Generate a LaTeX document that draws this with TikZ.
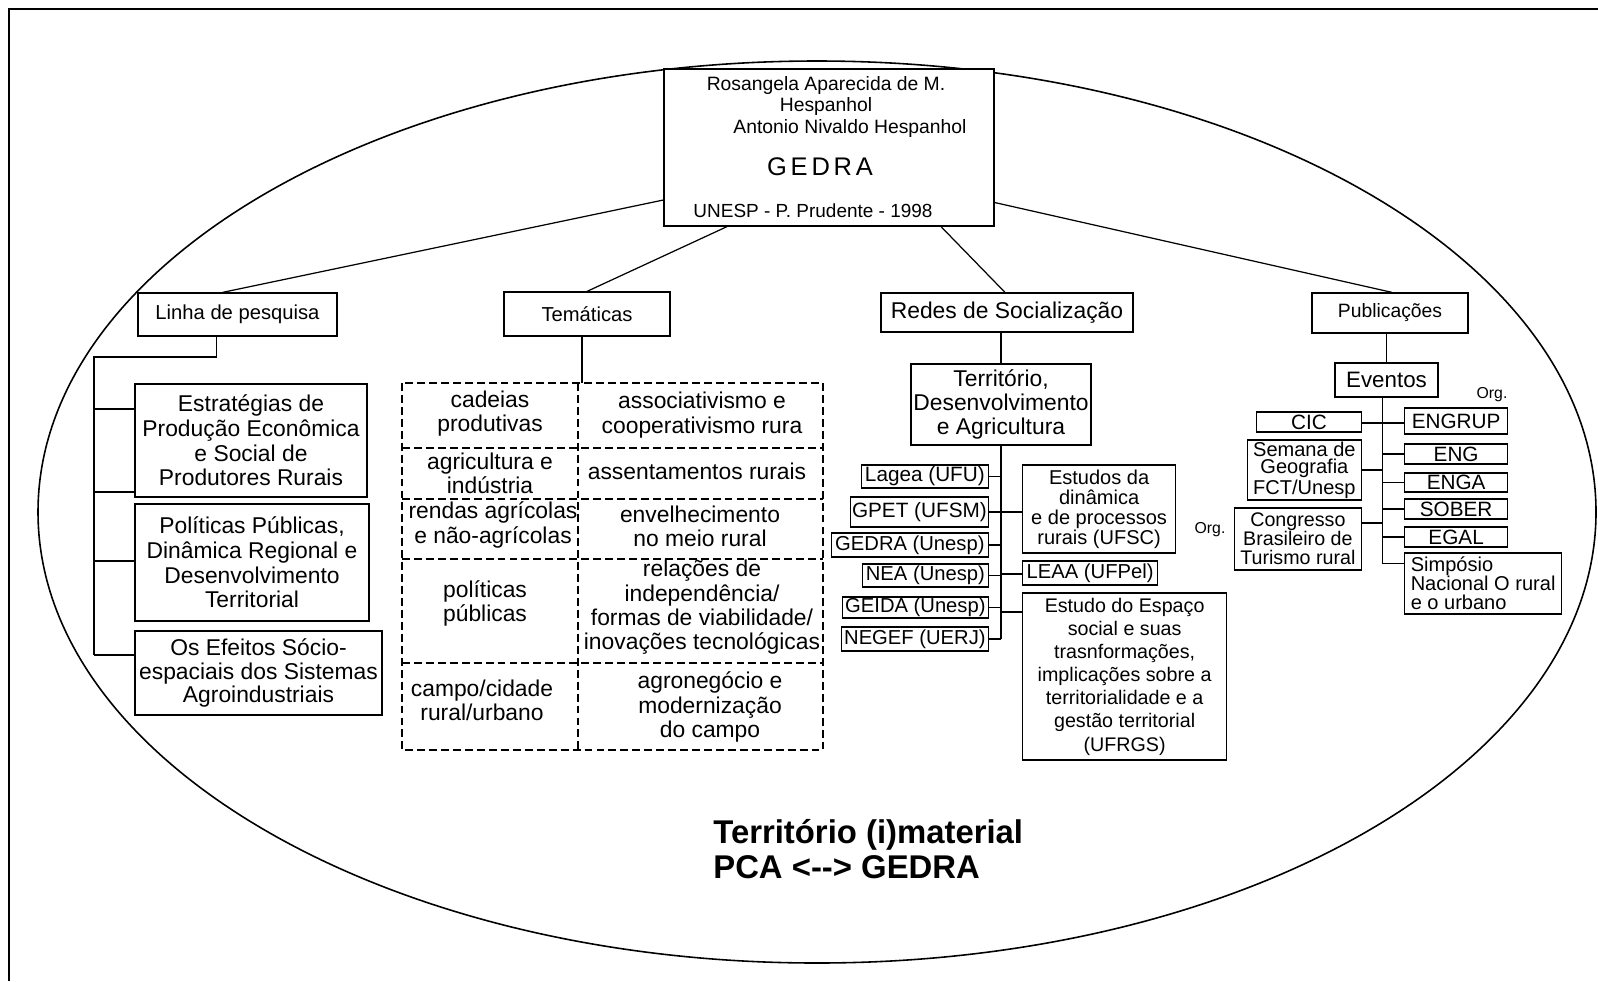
\documentclass[tikz,border=0pt]{standalone}
\usepackage{fontspec}
\setmainfont{Liberation Sans}
\usetikzlibrary{positioning}
\tikzset{
    box/.style={draw, fill=white, line width=0.7pt, align=center, inner sep=0pt},
    dims/.style 2 args={minimum width=#1*0.02cm, minimum height=#2*0.02cm},
    link/.style={line width=0.7pt},
    gridline/.style={line width=0.6pt, dash pattern=on 4.5pt off 2.3pt},
    cell/.style={align=center, inner sep=0pt, font=\fontsize{13}{13.8}\selectfont}
}

\begin{document}
\begin{tikzpicture}[x=0.02cm, y=-0.02cm]
\def\px{0.02cm}
\useasboundingbox (0,0) rectangle (1598,981);
% Frame and outer ellipse
\draw[line width=1.6pt] (9,981) -- (9,9) -- (1598,9);
\draw[line width=0.9pt] (817,512) ellipse [x radius=779*\px, y radius=451*\px];
% Top box
\node[box, dims={330}{157}] (gedra) at (829,147.5) {};
\node[font=\fontsize{11}{12.2}\selectfont, align=center] (authors) at (826,96)
    {Rosangela Aparecida de M.\\Hespanhol};
\node[font=\fontsize{11}{12}\selectfont] (author2) at (850,128) {Antonio Nivaldo Hespanhol};
\node[font=\fontsize{14.5}{16}\selectfont\addfontfeature{LetterSpace=15}] (gedratitle) at (820,167) {GEDRA};
\node[font=\fontsize{10.8}{12}\selectfont] (unesp) at (813,211) {UNESP - P. Prudente - 1998};
% First level
\node[box, dims={199}{43}, font=\fontsize{11.5}{13}\selectfont] (linha) at (237.5,314.5) {Linha de pesquisa};
\node[box, dims={166}{44}, font=\fontsize{11.5}{13}\selectfont] (tematicas) at (587,314) {Temáticas};
\node[box, dims={252}{39}, font=\fontsize{13}{14}\selectfont] (redes) at (1007,312.5) {Redes de Socialização};
\node[box, dims={156}{40}, font=\fontsize{11}{13}\selectfont] (publicacoes) at (1390,313) {Publicações};
\draw[link] ([xshift=-15*\px]linha.north) -- ([yshift=-52.5*\px]gedra.west);
\draw[link] (tematicas.north) -- ([xshift=-102*\px]gedra.south);
\draw[link] ([xshift=-2*\px]redes.north) -- ([xshift=112*\px]gedra.south);
\draw[link] ([xshift=2*\px]publicacoes.north) -- ([yshift=-55*\px]gedra.east);
% Linha de pesquisa
\node[box, dims={232}{113}, font=\fontsize{13}{14}\selectfont] (estr) at (251,440.5)
    {Estratégias de\\Produção Econômica\\e Social de\\Produtores Rurais};
\node[box, dims={234}{117}, font=\fontsize{13}{14}\selectfont] (polit) at (252,562.5)
    {Políticas Públicas,\\Dinâmica Regional e\\Desenvolvimento\\Territorial};
\node[box, dims={247}{84}, font=\fontsize{13}{13.3}\selectfont] (efeitos) at (258.5,673)
    {Os Efeitos Sócio-\\espaciais dos Sistemas\\Agroindustriais};
\coordinate (lspine) at (94,357);
\draw[link] ([xshift=-21*\px]linha.south) |- (lspine) -- ([yshift=18*\px]efeitos.west -| lspine);
\foreach \b/\s in {estr/31.5, estr/-51.5, polit/1.5, efeitos/18}
    \draw[link] ([yshift=\s*\px]\b.west) -- ([yshift=\s*\px]\b.west -| lspine);
% Tematicas grid
\coordinate (gridtop) at (582,383);
\draw[link] (tematicas.south -| gridtop) -- (gridtop);
\draw[gridline] (402,383) rectangle (823,750);
\draw[gridline] (578,383) -- (578,750);
\foreach \yy in {448,499,559,663}
    \draw[gridline] (402,\yy) -- (823,\yy);
\node[cell] (t11) at (490,413.5) {cadeias\\produtivas};
\node[cell] (t12) at (702,415) {associativismo e\\cooperativismo rura};
\node[cell] (t21) at (490,473.5) {agricultura e\\indústria};
\node[cell] (t22) at (697,471) {assentamentos rurais};
\node[cell] (t31) at (493,525) {rendas agrícolas\\e não-agrícolas};
\node[cell] (t32) at (700,526) {envelhecimento\\no meio rural};
\node[cell] (t41) at (485,603.5) {políticas\\públicas};
\node[cell] (t42) at (702,607.5) {relações de\\independência/\\formas de viabilidade/\\inovações tecnológicas};
\node[cell] (t51) at (482,700.5) {campo/cidade\\rural/urbano};
\node[cell] (t52) at (710,707) {agronegócio e\\modernização\\do campo};
% Redes de socializacao
\node[box, dims={180}{81}, font=\fontsize{13}{13.9}\selectfont] (territorio) at (1001,404.5)
    {Território,\\Desenvolvimento\\e Agricultura};
\draw[link] (redes.south -| territorio.north) -- (territorio.north);
\node[box, dims={127}{23}, anchor=east, font=\fontsize{11.8}{13}\selectfont] (lagea) at (989,476.5) {Lagea (UFU)};
\node[box, dims={138}{30}, anchor=east, font=\fontsize{11.8}{13}\selectfont] (gpet) at (989,512) {GPET (UFSM)};
\node[box, dims={157}{24}, anchor=east, font=\fontsize{11.5}{13}\selectfont] (gedraU) at (989,545) {GEDRA (Unesp)};
\node[box, dims={126}{23}, anchor=east, font=\fontsize{11.5}{13}\selectfont] (nea) at (989,575.5) {NEA (Unesp)};
\node[box, dims={146}{21}, anchor=east, font=\fontsize{11.5}{13}\selectfont] (geida) at (989,607.5) {GEIDA (Unesp)};
\node[box, dims={147}{24}, anchor=east, font=\fontsize{11.5}{13}\selectfont] (negef) at (989,639) {NEGEF (UERJ)};
\node[box, dims={153}{88}, anchor=west, font=\fontsize{11.4}{11.4}\selectfont] (estudos) at (1022,509)
    {Estudos da\\dinâmica\\e de processos\\rurais (UFSC)};
\node[box, dims={135}{24}, anchor=west, font=\fontsize{11.5}{13}\selectfont] (leaa) at (1022,573) {LEAA (UFPel)};
\node[box, dims={204}{167}, anchor=west, font=\fontsize{11.2}{13.2}\selectfont] (espaco) at (1022,676.5)
    {Estudo do Espaço\\social e suas\\trasnformações,\\implicações sobre a\\territorialidade e a\\gestão territorial\\(UFRGS)};
\draw[link] (territorio.south) -- (territorio.south |- negef.east);
\foreach \n in {lagea,gpet,gedraU,nea,geida,negef}
    \draw[link] (\n.east) -- (\n.east -| territorio.south);
\foreach \n/\s in {estudos/-3, leaa/-1, espaco/64.5}
    \draw[link] ([yshift=\s*\px]\n.west) -- ([yshift=\s*\px]\n.west -| territorio.south);
% Publicacoes / eventos
\node[box, dims={103}{34}, font=\fontsize{12.7}{14}\selectfont] (eventos) at (1386.5,380) {Eventos};
\draw[link] (publicacoes.south -| eventos.north) -- (eventos.north);
\node[box, dims={103}{26}, anchor=west, font=\fontsize{11.8}{13}\selectfont] (engrup) at (1404,421) {ENGRUP};
\node[box, dims={103}{20}, anchor=west, font=\fontsize{11.8}{13}\selectfont] (eng) at (1404,454) {ENG};
\node[box, dims={103}{19}, anchor=west, font=\fontsize{11.8}{13}\selectfont] (enga) at (1404,482.5) {ENGA};
\node[box, dims={103}{20}, anchor=west, font=\fontsize{11.8}{13}\selectfont] (sober) at (1404,509) {SOBER};
\node[box, dims={103}{20}, anchor=west, font=\fontsize{11.8}{13}\selectfont] (egal) at (1404,537) {EGAL};
\node[box, dims={157}{61}, anchor=west, align=left, font=\fontsize{11.4}{10.8}\selectfont] (simposio) at (1404,583.5)
    {Simpósio\\Nacional O rural\\e o urbano};
\node[box, dims={105}{20}, anchor=east, font=\fontsize{11.8}{13}\selectfont] (cic) at (1362,422) {CIC};
\node[box, dims={114}{60}, anchor=east, font=\fontsize{11.4}{10}\selectfont] (semana) at (1362,470)
    {Semana de\\Geografia\\FCT/Unesp};
\node[box, dims={127}{62}, anchor=east, font=\fontsize{11.2}{10.8}\selectfont] (congresso) at (1362,539)
    {Congresso\\Brasileiro de\\Turismo rural};
\coordinate (espine) at ([xshift=-4*\px]eventos.south);
\draw[link] (espine) -- ([yshift=20*\px]simposio.west -| espine);
\foreach \n/\s in {engrup/-2, eng/0, enga/0, sober/0, egal/0, simposio/20}
    \draw[link] ([yshift=\s*\px]\n.west) -- ([yshift=\s*\px]\n.west -| espine);
\foreach \n/\s in {cic/-1, semana/0, congresso/16}
    \draw[link] ([yshift=\s*\px]\n.east) -- ([yshift=\s*\px]\n.east -| espine);
\node[font=\fontsize{9}{10}\selectfont] (org1) at (1492,395) {Org.};
\node[font=\fontsize{9}{10}\selectfont] (org2) at (1210,530) {Org.};
% Bottom title
\node[font=\bfseries\fontsize{18.7}{19.8}\selectfont, align=left, anchor=west, inner sep=0pt] (theme) at (713,849)
    {Território (i)material\\PCA <-{}-> GEDRA};
\end{tikzpicture}
\end{document}
